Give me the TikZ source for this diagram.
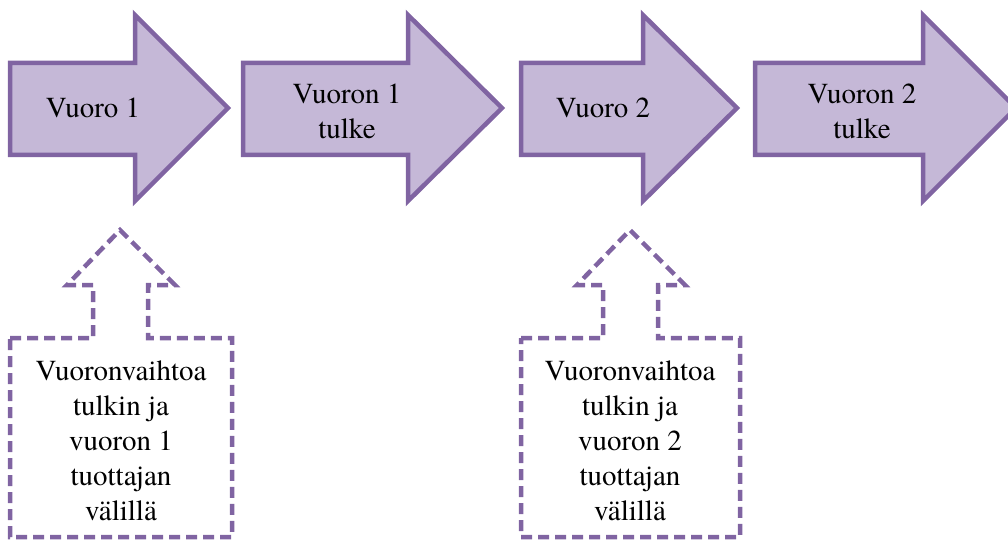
\documentclass[tikz,border=0pt]{standalone}
\usepackage{fontspec}
\setmainfont{TeX Gyre Termes}
\newfontfamily\timesfont{TeX Gyre Termes}
\definecolor{arrfill}{HTML}{C5B8D7}
\definecolor{arrline}{HTML}{8064A2}
\newcommand\lblfont{\timesfont\fontsize{29pt}{35pt}\selectfont}
\tikzset{
  bigarrow/.style={fill=arrfill, draw=arrline, line width=4.5pt, line join=miter},
  callout/.style={draw=arrline, line width=4.5pt, dash pattern=on 11pt off 6pt, line join=miter},
  lbl/.style={font=\lblfont, align=center, inner sep=0pt}
}
\newcommand\drawbigarrow[3]{% left, base, tip
  \path[bigarrow] (#1,63) -- (#2,63) -- (#2,15) -- (#3,108) -- (#2,201) -- (#2,155) -- (#1,155) -- cycle;
}
\newcommand\drawcallout[7]{% left, stemL, headL, tip, headR, stemR, right
  \path[callout] (#1,338) -- (#2,338) -- (#2,285) -- (#3,285) -- (#4,230) -- (#5,285) -- (#6,285) -- (#6,338) -- (#7,338) -- (#7,537) -- (#1,537) -- cycle;
}
\begin{document}
\begin{tikzpicture}[x=1pt,y=-1pt]
\useasboundingbox (0,0) rectangle (1008,540);
\begin{scope}
\clip (0,0) rectangle (1008,540);
\drawbigarrow{10}{135}{228}
\drawbigarrow{243}{408}{502}
\drawbigarrow{521}{643}{737}
\drawbigarrow{755}{923}{1016}
\drawcallout{10}{93}{67}{120}{175}{148}{232}
\drawcallout{521}{603}{577}{630}{685}{658}{740}
\end{scope}
\node[lbl] (t1) at (93,108) {\lblfont Vuoro 1};
\node[lbl] (t2) at (347,111) {\lblfont Vuoron 1\\\lblfont tulke};
\node[lbl] (t3) at (603,108) {\lblfont Vuoro 2};
\node[lbl] (t4) at (862,111) {\lblfont Vuoron 2\\\lblfont tulke};
\node[lbl] (c1) at (121,441) {\lblfont Vuoronvaihtoa\\\lblfont tulkin ja\\\lblfont vuoron 1\\\lblfont tuottajan\\\lblfont välillä};
\node[lbl] (c2) at (630,441) {\lblfont Vuoronvaihtoa\\\lblfont tulkin ja\\\lblfont vuoron 2\\\lblfont tuottajan\\\lblfont välillä};
\end{tikzpicture}
\end{document}
